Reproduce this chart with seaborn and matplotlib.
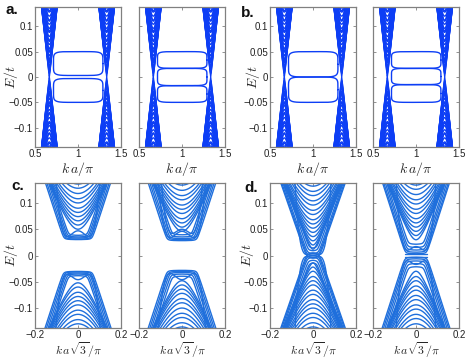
import numpy as np
import pandas as pd
import matplotlib
matplotlib.use("Agg")
import matplotlib.pyplot as plt
import seaborn as sns

# ---------------- values ----------------
# zigzag-type panels (a, b): Dirac valleys and subband minima (E/t)
ZZ_RANGE = [0.5, 1.5]
VALLEYS = [2 / 3, 4 / 3]
CONE_VEL = 1.53
CONE_LEVELS = [0.0, 0.007, 0.014, 0.021, 0.028, 0.035, 0.042, 0.049, 0.056, 0.064,
               0.072, 0.08, 0.088, 0.096, 0.104, 0.112, 0.12, 0.128, 0.136]
CONE_VEL_STEEP = 2.2
CONE_LEVELS_STEEP = [0.01, 0.03, 0.05, 0.07, 0.09, 0.11, 0.13]

# edge-state loops between the valleys: (lower level, upper level)
LOOP_K = [0.715, 1.29]
LOOPS_A1 = [(0.003, 0.05), (-0.05, -0.003)]
LOOPS_A2 = [(0.017, 0.05), (-0.017, 0.017), (-0.05, -0.017)]
LOOPS_B1 = [(0.0, 0.05), (-0.05, 0.0)]
LOOPS_B2 = [(0.017, 0.05), (-0.015, 0.017), (-0.05, -0.015)]

# armchair-type panels (c, d)
AC_RANGE = [-0.2, 0.2]
# edge bundles: (band edge energy, half width of flat bottom)
C1_EDGE = [(0.035, 0.066), (0.036, 0.06), (0.038, 0.054), (0.040, 0.049), (0.043, 0.044),
           (-0.035, 0.068), (-0.036, 0.062), (-0.038, 0.056), (-0.040, 0.05), (-0.043, 0.045)]
C1_INNER = [0.05, 0.058, 0.066, 0.074, 0.082, 0.09, 0.1, 0.108, 0.118, 0.128, 0.136,
            -0.052, -0.06, -0.07, -0.078, -0.086, -0.094, -0.104, -0.112, -0.122, -0.13]
C1_HATS = [(0.036, 0.05, 0.011), (-0.036, 0.05, -0.01)]

C2_EDGE = [(0.033, 0.07), (0.035, 0.064), (0.037, 0.058), (0.040, 0.052), (0.044, 0.046),
           (-0.033, 0.07), (-0.035, 0.064), (-0.037, 0.058), (-0.040, 0.052), (-0.044, 0.046)]
C2_INNER = [0.046, 0.054, 0.062, 0.07, 0.08, 0.088, 0.096, 0.106, 0.114, 0.124, 0.134,
            -0.048, -0.056, -0.064, -0.072, -0.082, -0.09, -0.1, -0.11, -0.118, -0.128, -0.136]
C2_HATS = [(0.034, 0.055, 0.012), (-0.034, 0.055, -0.012), (0.042, 0.045, 0.008)]

D1_EDGE = [(0.001, 0.03), (0.004, 0.028), (0.008, 0.026), (0.013, 0.022), (0.018, 0.018),
           (-0.001, 0.03), (-0.004, 0.028), (-0.008, 0.026), (-0.013, 0.022), (-0.018, 0.018)]
D1_INNER = [0.012, 0.02, 0.028, 0.036, 0.044, 0.052, 0.06, 0.068, 0.078, 0.086, 0.096,
            0.104, 0.114, 0.122, 0.132,
            -0.014, -0.022, -0.03, -0.04, -0.048, -0.056, -0.066, -0.074, -0.084, -0.092,
            -0.1, -0.11, -0.118, -0.128, -0.136]
D1_HATS = [(0.002, 0.03, 0.003), (-0.002, 0.03, -0.003)]

D2_EDGE = [(0.008, 0.05), (0.011, 0.047), (0.015, 0.043), (0.02, 0.04), (0.026, 0.036),
           (-0.008, 0.052), (-0.011, 0.048), (-0.015, 0.044), (-0.02, 0.04), (-0.026, 0.036)]
D2_INNER = [0.03, 0.038, 0.046, 0.054, 0.062, 0.07, 0.08, 0.088, 0.098, 0.106, 0.116, 0.126, 0.134,
            -0.03, -0.04, -0.048, -0.058, -0.066, -0.076, -0.084, -0.094, -0.102, -0.112,
            -0.12, -0.13]
D2_HATS = [(0.01, 0.04, 0.007), (-0.01, 0.04, -0.007), (0.002, 0.05, 0.0), (-0.002, 0.05, 0.0)]

C_VEL_EDGE = 1.26
C_VEL_INNER = 0.95
D1_VEL_EDGE = 1.18
D2_VEL_EDGE = 1.28
D_VEL_INNER = 1.0

YTICKS = [-0.1, -0.05, 0, 0.05, 0.1]
YTICK_LABELS = ["\u22120.1", "\u22120.05", "0", "0.05", "0.1"]
ZZ_TICKS = [0.5, 1, 1.5]
ZZ_TICK_LABELS = ["0.5", "1", "1.5"]
AC_TICKS = [-0.2, 0, 0.2]
AC_TICK_LABELS = ["\u22120.2", "0", "0.2"]
E_LIM = 0.138


# ---------------- band builders ----------------
def zigzag_bands(loops):
    k = np.linspace(*ZZ_RANGE, 801)
    rows = []
    for K in VALLEYS:
        for levels, v in ((CONE_LEVELS, CONE_VEL), (CONE_LEVELS_STEEP, CONE_VEL_STEEP)):
            for m in levels:
                for s in (1, -1):
                    rows.append((k, s * np.sqrt(m ** 2 + (v * (k - K)) ** 2)))
    t = np.linspace(0, 2 * np.pi, 600)
    kc, w = np.mean(LOOP_K), (LOOP_K[1] - LOOP_K[0]) / 2
    p = 6
    for lo, hi in loops:
        ec, h = (lo + hi) / 2, (hi - lo) / 2
        kk = kc + w * np.sign(np.cos(t)) * np.abs(np.cos(t)) ** (2 / p)
        ee = ec + h * np.sign(np.sin(t)) * np.abs(np.sin(t)) ** (2 / p)
        rows.append((kk, ee))
    return rows


def armchair_bands(edge, inner, hats, v_edge):
    k = np.linspace(*AC_RANGE, 601)
    rows = []
    sm = 0.008
    for d, w in edge:
        x = np.abs(k) - w
        rows.append((k, d + np.sign(d) * v_edge * 0.5 * (x + np.sqrt(x ** 2 + sm ** 2) - sm)))
    for m in inner:
        v = C_VEL_INNER if v_edge == C_VEL_EDGE else D_VEL_INNER
        rows.append((k, np.sign(m) * np.sqrt(m ** 2 + (v * k) ** 2)))
    for d, k0, hump in hats:
        if hump == 0:
            kk = k[np.abs(k) <= k0]
            rows.append((kk, np.full_like(kk, d)))
        else:
            rows.append((k, d + hump / k0 ** 4 * (k ** 2 - k0 ** 2) ** 2))
    return rows


def to_frame(rows):
    parts = [pd.DataFrame({"k": kk, "E": ee, "band": i}) for i, (kk, ee) in enumerate(rows)]
    return pd.concat(parts, ignore_index=True)


# ---------------- figure ----------------
sns.set_theme(style="ticks")
plt.rcParams["font.family"] = ["Liberation Sans", "DejaVu Sans"]
plt.rcParams["mathtext.fontset"] = "cm"

W, H = 466, 360
fig = plt.figure(figsize=(W / 100, H / 100), dpi=100)

ZZ_BLUE = "#0d3ef5"
AC_BLUE = "#1f6fdc"
FRAME = "#808080"

# left px, top px, bottom px, bands, colour, kind, ylabel right edge px (None = no labels)
panels = [
    (35, 7, 147, zigzag_bands(LOOPS_A1), ZZ_BLUE, "zz", 20),
    (139, 7, 147, zigzag_bands(LOOPS_A2), ZZ_BLUE, "zz", None),
    (270, 7, 147, zigzag_bands(LOOPS_B1), ZZ_BLUE, "zz", 262),
    (373, 7, 147, zigzag_bands(LOOPS_B2), ZZ_BLUE, "zz", None),
    (35, 183, 328, armchair_bands(C1_EDGE, C1_INNER, C1_HATS, C_VEL_EDGE), AC_BLUE, "ac", 20),
    (139, 183, 328, armchair_bands(C2_EDGE, C2_INNER, C2_HATS, C_VEL_EDGE), AC_BLUE, "ac", None),
    (270, 183, 328, armchair_bands(D1_EDGE, D1_INNER, D1_HATS, D1_VEL_EDGE), AC_BLUE, "ac", 256),
    (373, 183, 328, armchair_bands(D2_EDGE, D2_INNER, D2_HATS, D2_VEL_EDGE), AC_BLUE, "ac", None),
]

for left, top, bottom, rows, color, kind, ylab in panels:
    ax = fig.add_axes([left / W, 1 - bottom / H, 86 / W, (bottom - top) / H])
    df = to_frame(rows)
    sns.lineplot(data=df, x="k", y="E", units="band", estimator=None, sort=False,
                 color=color, lw=1.0, legend=False, ax=ax)
    ax.set_ylim(-E_LIM, E_LIM)
    h = bottom - top
    if kind == "zz":
        ax.set_xlim(*ZZ_RANGE)
        ax.set_xticks(ZZ_TICKS)
        ax.set_xticklabels(ZZ_TICK_LABELS)
        ax.set_xlabel(r"$k\,a/\pi$", fontsize=10)
        ax.xaxis.set_label_coords(0.5, -13 / h)
    else:
        ax.set_xlim(*AC_RANGE)
        ax.set_xticks(AC_TICKS)
        ax.set_xticklabels(AC_TICK_LABELS)
        ax.set_xlabel(r"$k\,a\sqrt{3}/\pi$", fontsize=8.5)
        ax.xaxis.set_label_coords(0.5, -12 / h)
    ax.set_yticks(YTICKS)
    if ylab is not None:
        ax.set_yticklabels(YTICK_LABELS)
        ax.set_ylabel(r"$E/t$", fontsize=10)
        ax.yaxis.set_label_coords((ylab - left) / 86, 0.5)
    else:
        ax.set_yticklabels([])
        ax.set_ylabel("")
    ax.tick_params(direction="in", length=2.5, width=0.6, color=FRAME,
                   labelsize=7, pad=1.5, top=True, right=True, labelcolor="#222222")
    for sp in ax.spines.values():
        sp.set_color(FRAME)
        sp.set_linewidth(0.9)

for letter, x, y in [("a.", 6, 14), ("b.", 241, 17), ("c.", 11, 190), ("d.", 244, 192)]:
    fig.text(x / W, 1 - y / H, letter, fontsize=11, fontweight="bold", color="#111111")

fig.savefig("out.png", dpi=100)
